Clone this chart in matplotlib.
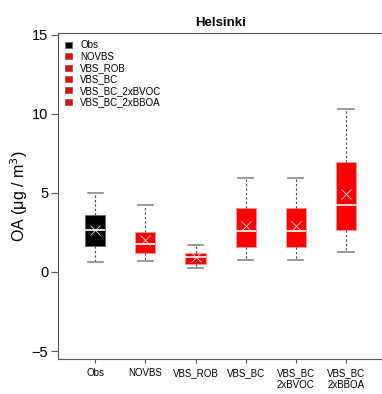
import matplotlib
matplotlib.use("Agg")
import matplotlib.pyplot as plt
from matplotlib.patches import Patch

plt.rcParams['font.family'] = ['Liberation Sans', 'DejaVu Sans']

# 数据
names = ["Obs", "NOVBS", "VBS_ROB", "VBS_BC", "VBS_BC_2xBVOC", "VBS_BC_2xBBOA"]
tick_labels = ["Obs", "NOVBS", "VBS_ROB", "VBS_BC", "VBS_BC\n2xBVOC", "VBS_BC\n2xBBOA"]
whislo = [0.65, 0.71, 0.25, 0.78, 0.78, 1.24]
q1 = [1.62, 1.20, 0.50, 1.55, 1.55, 2.65]
med = [2.65, 1.78, 0.92, 2.58, 2.58, 4.22]
q3 = [3.57, 2.52, 1.22, 4.03, 4.03, 6.97]
whishi = [5.00, 4.22, 1.72, 5.96, 5.96, 10.32]
means = [2.65, 2.02, 0.92, 2.92, 2.92, 4.94]
colors = ["black", "red", "red", "red", "red", "red"]

stats = []
for i in range(len(names)):
    stats.append(dict(label=tick_labels[i], whislo=whislo[i], q1=q1[i], med=med[i],
                      q3=q3[i], whishi=whishi[i], mean=means[i], fliers=[]))

fig = plt.figure(figsize=(3.82, 3.94), dpi=100)
ax = fig.add_axes([0.152, 0.089, 0.851, 0.827])

pos = list(range(1, len(names) + 1))
bp = ax.bxp(stats, positions=pos, widths=0.40, patch_artist=True, showmeans=True,
            showfliers=False,
            medianprops=dict(color="white", linewidth=1.2),
            whiskerprops=dict(color="#444444", linestyle=(0, (2, 2)), linewidth=0.8),
            capprops=dict(color="#888888", linewidth=1.2),
            meanprops=dict(marker="x", markeredgecolor="#ffdddd", markersize=7,
                           markeredgewidth=0.6))
for box, c in zip(bp["boxes"], colors):
    box.set_facecolor(c)
    box.set_edgecolor("#ff9999" if c == "red" else "#666666")
    box.set_linewidth(0.6)
for cap in bp["caps"]:
    x0, x1 = cap.get_xdata()
    xm = (x0 + x1) / 2
    cap.set_xdata([xm - 0.15, xm + 0.15])

ax.set_xlim(0.26, 6.74)
ax.set_ylim(-5.5, 15.1)
ax.set_yticks([-5, 0, 5, 10, 15])
ax.set_yticklabels(["\u22125", "0", "5", "10", "15"], fontsize=10.5)
ax.set_xticks(pos)
ax.set_xticklabels(tick_labels, fontsize=7)
ax.tick_params(axis="y", length=5, color="#555555", pad=2)
ax.tick_params(axis="x", length=3, color="#555555")
for s in ax.spines.values():
    s.set_color("#555555")
ax.set_ylabel("OA (\u03bcg / m$^3$)", fontsize=11.5, labelpad=1)
ax.set_title("Helsinki", fontsize=9.5, fontweight="bold", pad=5)

handles = [Patch(facecolor=c, edgecolor="#666666", linewidth=0.6) for c in colors]
ax.legend(handles, names, loc="upper left", fontsize=7, frameon=False,
          handlelength=0.65, handleheight=0.6, handletextpad=0.9, labelspacing=0.14,
          borderaxespad=0.35)

fig.savefig("out.png", dpi=100)
